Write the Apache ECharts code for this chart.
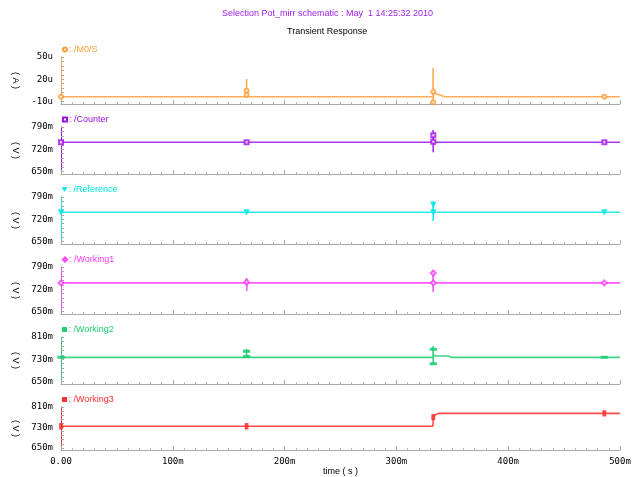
<!DOCTYPE html>
<html>
<head>
<meta charset="utf-8">
<script src="https://cdn.jsdelivr.net/npm/echarts@6/dist/echarts.min.js"></script>
<style>html,body{margin:0;padding:0;background:#fff}#c{width:634px;height:477px}</style>
</head>
<body>
<div id="c"></div>
<script>
// ---- data (time in ms, values in uA / mV) ----
const xTickLabels = ['0.00', '100m', '200m', '300m', '400m', '500m'];

const tM0S = [0, 165.9, 166.0, 166.1, 166.3, 332.7, 332.8, 332.9, 333.0, 336.1, 340.6, 344.0, 500];
const vM0S = [-3.6, -3.6, 20.4, 4.6, -3.6, -3.6, 35.2, -12.0, 3.3, 0.2, -2.1, -3.6, -3.6];
const mtM0S = [0, 166, 166, 333, 333, 486];
const mvM0S = [-3.6, 4.6, -1.2, 3.3, -11.0, -3.6];

const tCounter = [0, 332.7, 332.8, 332.9, 333.1, 500];
const vCounter = [742, 742, 780.6, 710.4, 742, 742];
const mtCounter = [0, 166, 333, 333, 486];
const mvCounter = [742, 742, 764, 744, 742];

const tReference = [0, 332.7, 332.8, 332.9, 333.1, 333.4, 500];
const vReference = [742, 742, 777, 714.5, 752, 742, 742];
const mtReference = [0, 166, 333, 333, 486];
const mvReference = [742, 742, 766, 742, 742];

const tWorking1 = [0, 165.9, 166.0, 166.1, 166.3, 332.7, 332.8, 332.9, 333.0, 333.3, 500];
const vWorking1 = [740, 740, 755, 714.5, 740, 740, 780.6, 711.4, 750, 740, 740];
const mtWorking1 = [0, 166, 333, 333, 486];
const mvWorking1 = [740, 742, 771, 740, 740];

const tWorking2 = [0, 165.9, 166.0, 166.2, 332.7, 332.8, 332.9, 333.1, 335.5, 347.0, 349.0, 500];
const vWorking2 = [737, 737, 767, 737, 737, 777.7, 712, 744, 741.5, 741.5, 737, 737];
const mtWorking2 = [0, 166, 166, 333, 333, 486];
const mvWorking2 = [737, 759, 740, 766, 714, 737];

const tWorking3 = [0, 332.7, 332.9, 333.3, 334.6, 337.5, 500];
const vWorking3 = [734.6, 734.6, 768, 766, 778.7, 785, 785];
const mtWorking3 = [0, 166, 333, 486];
const mvWorking3 = [734.6, 734.6, 770, 785];

const yLabelsA = [-10, 20, 50];
const yLabelsV1 = [650, 720, 790];
const yLabelsV2 = [650, 730, 810];

// ---- panel definitions ----
const downTri = 'path://M0,0L10,0L5,9Z';
const panels = [
  {name: '/M0/S', color: '#ff9f3a', t: tM0S, v: vM0S, mt: mtM0S, mv: mvM0S, labels: yLabelsA, unit: 'u', axisName: '( A )',
   sym: 'emptyCircle', symSize: 4, icon: 'emptyCircle'},
  {name: '/Counter', color: '#a010e8', t: tCounter, v: vCounter, mt: mtCounter, mv: mvCounter, labels: yLabelsV1, unit: 'm', axisName: '( V )',
   sym: 'emptyRect', symSize: 4, icon: 'emptyRect'},
  {name: '/Reference', color: '#00e6e6', t: tReference, v: vReference, mt: mtReference, mv: mvReference, labels: yLabelsV1, unit: 'm', axisName: '( V )',
   sym: downTri, symSize: 5, icon: downTri},
  {name: '/Working1', color: '#ff3cff', t: tWorking1, v: vWorking1, mt: mtWorking1, mv: mvWorking1, labels: yLabelsV1, unit: 'm', axisName: '( V )',
   sym: 'emptyDiamond', symSize: 5, icon: 'emptyDiamond'},
  {name: '/Working2', color: '#1ecc70', t: tWorking2, v: vWorking2, mt: mtWorking2, mv: mvWorking2, labels: yLabelsV2, unit: 'm', axisName: '( V )',
   sym: 'rect', symSize: [5, 2], icon: 'rect'},
  {name: '/Working3', color: '#ff2e2e', t: tWorking3, v: vWorking3, mt: mtWorking3, mv: mvWorking3, labels: yLabelsV2, unit: 'm', axisName: '( V )',
   sym: 'rect', symSize: [3, 5], icon: 'rect'}
];

const PANEL_TOP = 57, PANEL_STEP = 70, PANEL_H = 47;
const labelFont = 'DejaVu Sans Mono';
const textFont = 'Liberation Sans';

const grids = [], xAxes = [], yAxes = [], series = [], legends = [];
panels.forEach((p, i) => {
  const lo = p.labels[0], hi = p.labels[p.labels.length - 1];
  const span = hi - lo;
  const yMin = lo - span * 0.055;
  const step = span / (p.labels.length - 1) / 5;
  const minorTicks = [];
  for (let k = 0; lo + k * step <= hi + 1e-9; k++) minorTicks.push(lo + k * step);

  grids.push({left: 61, right: 14, top: PANEL_TOP + PANEL_STEP * i, height: PANEL_H, containLabel: false});
  xAxes.push({
    type: 'value', gridIndex: i, min: 0, max: 500, interval: 100,
    axisLine: {show: true, onZero: false, lineStyle: {color: '#a8a8a8', width: 1}},
    axisTick: {show: true, inside: true, length: 4, lineStyle: {color: '#a8a8a8'}},
    minorTick: {show: true, splitNumber: 10, length: 2, lineStyle: {color: '#b4b4b4'}},
    splitLine: {show: false}, minorSplitLine: {show: false},
    axisLabel: {show: i === panels.length - 1, color: '#000', fontFamily: labelFont, fontSize: 9, margin: 7,
      formatter: v => xTickLabels[Math.round(v / 100)]},
    name: i === panels.length - 1 ? 'time ( s )' : '',
    nameLocation: 'middle', nameGap: 16,
    nameTextStyle: {color: '#000', fontFamily: textFont, fontSize: 9}
  });
  yAxes.push({
    type: 'value', gridIndex: i, min: yMin, max: hi,
    axisLine: {show: true, onZero: false, lineStyle: {color: p.color, width: 1}},
    axisTick: {show: true, inside: true, length: 3, customValues: minorTicks, lineStyle: {color: '#a8a8a8'}},
    axisLabel: {show: true, customValues: p.labels, color: '#000', fontFamily: labelFont, fontSize: 9, margin: 8,
      formatter: v => Math.round(v) + p.unit},
    splitLine: {show: false},
    name: p.axisName, nameLocation: 'middle', nameRotate: -90, nameGap: 40,
    nameTextStyle: {color: '#000', fontFamily: textFont, fontSize: 9}
  });
  series.push({
    name: p.name, type: 'line', xAxisIndex: i, yAxisIndex: i,
    data: p.t.map((t, k) => [t, p.v[k]]),
    showSymbol: false, symbol: 'none',
    lineStyle: {color: p.color, width: 1.6, opacity: 0.85},
    itemStyle: {color: p.color}, animation: false, z: 2
  });
  series.push({
    name: p.name, type: 'scatter', xAxisIndex: i, yAxisIndex: i,
    data: p.mt.map((t, k) => [t, p.mv[k]]),
    symbol: p.sym, symbolSize: p.symSize,
    itemStyle: {color: p.color, borderColor: p.color, borderWidth: 1}, animation: false, z: 3
  });
  legends.push({
    data: [{name: p.name, icon: p.icon}], left: 62, top: PANEL_TOP + PANEL_STEP * i - 12,
    itemWidth: 4, itemHeight: 4, itemGap: 0, padding: 0, selectedMode: false,
    formatter: ': {name}',
    itemStyle: {color: p.color, borderColor: p.color, borderWidth: 1},
    textStyle: {color: p.color, fontFamily: textFont, fontSize: 9, padding: [0, 0, 0, -3]}
  });
});

const chart = echarts.init(document.getElementById('c'), null, {renderer: 'canvas'});
chart.setOption({
  backgroundColor: '#fff',
  animation: false,
  grid: grids, xAxis: xAxes, yAxis: yAxes, series: series, legend: legends,
  graphic: [
    {type: 'text', left: 222, top: 9, style: {text: 'Selection Pot_mirr schematic : May  1 14:25:32 2010',
      fill: '#a020f0', font: '9px "Liberation Sans"'}},
    {type: 'text', left: 287, top: 27, style: {text: 'Transient Response', fill: '#000', font: '9px "Liberation Sans"'}}
  ]
});
</script>
</body>
</html>
